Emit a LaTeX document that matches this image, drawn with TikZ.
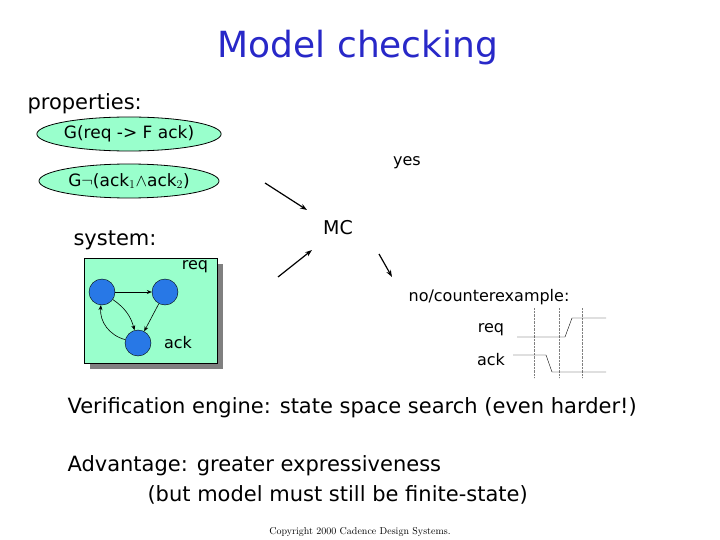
\documentclass[tikz,border=0pt]{standalone}
\usepackage{fontspec}
\setmainfont{DejaVu Sans}
\usetikzlibrary{shapes.geometric,arrows.meta}
\definecolor{mint}{RGB}{153,255,204}
\definecolor{ttl}{RGB}{40,40,200}
\definecolor{stc}{RGB}{40,120,230}
\begin{document}
\begin{tikzpicture}[x=1pt,y=-1pt,
  prop/.style={ellipse,draw,thick,fill=mint,minimum width=180,minimum height=34,inner sep=0,font=\fontsize{17}{20}\selectfont},
  st/.style={circle,draw,fill=stc,minimum size=26,inner sep=0},
  ar/.style={-{Stealth[length=7pt,width=5pt]},line width=1.2pt},
  sa/.style={-{Stealth[length=5pt,width=4pt]},semithick},
  txt/.style={font=\fontsize{21}{25}\selectfont,anchor=west},
  dot/.style={densely dotted,gray}]
\useasboundingbox (0,0) rectangle (720,540);
\node[font=\fontsize{36}{42}\selectfont,text=ttl] (title) at (358,48) {Model checking};
\node[txt] (p) at (24,104) {properties:};
\node[prop] (e1) at (129,134) {G(req -> F ack)};
\node[prop] (e2) at (129,181) {G$\neg$(ack$_1$$\wedge$ack$_2$)};
\node[txt] (s) at (70,240) {system:};
\fill[gray] (90,264) rectangle (223,369);
\draw[fill=mint] (84,258) rectangle (217,363);
\node[st] (a) at (102,292) {};
\node[st] (b) at (165,292) {};
\node[st] (c) at (138,343) {};
\draw[sa] (a) -- (b);
\draw[sa] (b) -- (c);
\draw[sa] (a) to[bend left=20] (c);
\draw[sa] (c) to[bend left=40] (a);
\node[font=\fontsize{16}{19}\selectfont] (lr) at (195,267) {req};
\node[font=\fontsize{16}{19}\selectfont] (la) at (178,343) {ack};
\node[font=\fontsize{19}{22}\selectfont] (mc) at (338,228) {MC};
\node[font=\fontsize{16}{19}\selectfont] (yes) at (407,163) {yes};
\coordinate (i1) at (265,183); \coordinate (i2) at (278,277);
\coordinate (o0) at (379,254); \coordinate (o1) at (392,277);
\draw[ar] (i1) -- (307,210);
\draw[ar] (i2) -- (312,250);
\draw[ar] (o0) -- (o1);
\node[font=\fontsize{16}{19}\selectfont] (nc) at (489,297) {no/counterexample:};
\node[font=\fontsize{16}{19}\selectfont] (tr) at (491,330) {req};
\node[font=\fontsize{16}{19}\selectfont] (ta) at (491,360) {ack};
\foreach \x in {534,559,582} \draw[dot] (\x,308) -- (\x,378);
\draw (517,337) -- (565,337) -- (572,318) -- (606,318);
\draw (513,355) -- (546,355) -- (552,372) -- (606,372);
\node[txt] (v) at (64,408) {Verification engine: state space search (even harder!)};
\node[txt] (ad) at (64,466) {Advantage: greater expressiveness};
\node[txt] (bt) at (144,495) {(but model must still be finite-state)};
\node[font=\fontfamily{lmr}\fontsize{10}{12}\selectfont] (cp) at (360,532) {Copyright 2000 Cadence Design Systems.};
\end{tikzpicture}
\end{document}
